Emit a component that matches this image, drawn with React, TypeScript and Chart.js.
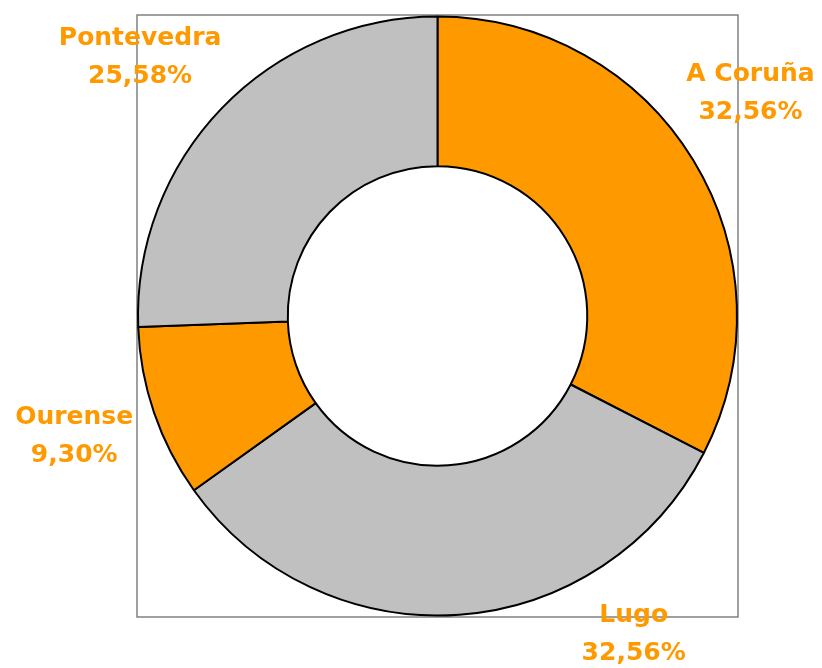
import React, { useEffect, useRef } from "react";
import { Chart, registerables } from "chart.js";

Chart.register(...registerables);

const categories = ["A Coruña", "Lugo", "Ourense", "Pontevedra"];
const values = [32.56, 32.56, 9.3, 25.58];
const sliceColors = ["#FF9900", "#C0C0C0", "#FF9900", "#C0C0C0"];
// label placement relative to doughnut centre, in units of outer radius
const labelOffsetX = [1.045, 0.655, -1.213, -0.993];
const labelOffsetY = [-0.744, 1.063, 0.404, -0.862];

const fmt = (v: number) => v.toFixed(2).replace(".", ",") + "%";

const boxPlugin = {
  id: "boxPlugin",
  beforeDatasetsDraw(chart: any) {
    const { ctx, chartArea } = chart;
    ctx.save();
    ctx.strokeStyle = "#808080";
    ctx.lineWidth = 1.5;
    ctx.strokeRect(chartArea.left, chartArea.top, chartArea.right - chartArea.left, chartArea.bottom - chartArea.top);
    ctx.restore();
  },
};

const labelPlugin = {
  id: "labelPlugin",
  afterDraw(chart: any) {
    const { ctx } = chart;
    const meta = chart.getDatasetMeta(0);
    ctx.save();
    ctx.fillStyle = "#FF9900";
    ctx.font = "bold 25px 'DejaVu Sans', Verdana, sans-serif";
    ctx.textAlign = "center";
    ctx.textBaseline = "middle";
    meta.data.forEach((arc: any, i: number) => {
      const R = arc.outerRadius;
      const cx = arc.x + labelOffsetX[i] * R;
      const cy = arc.y + labelOffsetY[i] * R;
      ctx.fillText(categories[i], cx, cy - 19);
      ctx.fillText(fmt(values[i]), cx, cy + 19);
    });
    ctx.restore();
  },
};

export default function App() {
  const ref = useRef<HTMLCanvasElement>(null);
  useEffect(() => {
    if (!ref.current) return;
    const chart = new Chart(ref.current, {
      type: "doughnut",
      data: {
        labels: categories,
        datasets: [
          {
            data: values,
            backgroundColor: sliceColors,
            borderColor: "#000000",
            borderWidth: 2,
            hoverOffset: 0,
          },
        ],
      },
      options: {
        responsive: false,
        animation: false,
        cutout: "50%",
        layout: { padding: { left: 137, top: 15, right: 84, bottom: 51 } },
        plugins: {
          legend: { display: false },
          tooltip: { enabled: false },
        },
      },
      plugins: [boxPlugin, labelPlugin],
    });
    return () => chart.destroy();
  }, []);
  return (
    <div style={{ position: "absolute", left: 0, top: 0, width: 822, height: 668, background: "#fff" }}>
      <canvas ref={ref} width={822} height={668} />
    </div>
  );
}
